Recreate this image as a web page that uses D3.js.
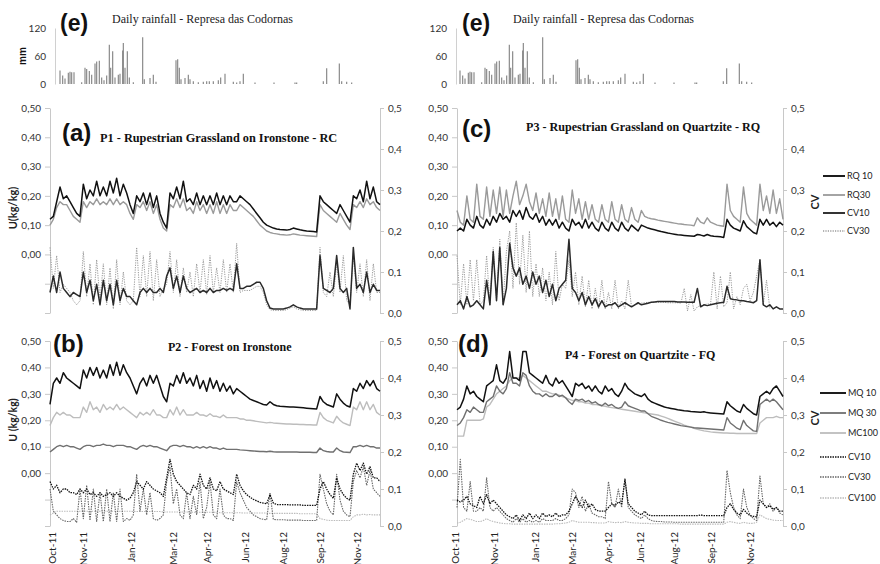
<!DOCTYPE html>
<html><head><meta charset="utf-8">
<script src="https://cdn.jsdelivr.net/npm/d3@7"></script>
<style>body{margin:0;background:#fff}svg{display:block}</style>
</head><body>
<svg id="c" width="880" height="564"></svg>
<script>
// ---------- tick labels ----------
const xTickLabels = ["Oct-11","Nov-11","Jan-12","Mar-12","Apr-12","Jun-12","Aug-12","Sep-12","Nov-12"];
const xTickPosLeft  = [0.6, 9.9, 24.3, 36.9, 47.1, 58.5, 69.9, 81, 92.1];
const xTickPosRight = [-0.6, 11.5, 23.7, 35, 45.9, 55.6, 66.2, 77.4, 89];
const uTickValues = [-0.2,-0.1,0,0.1,0.2,0.3,0.4,0.5];
const uTickLabels = ["","","0,00","0,10","0,20","0,30","0,40","0,50"];
const cvTickValues = [0,0.1,0.2,0.3,0.4,0.5];
const cvTickLabels = ["0,0","0,1","0,2","0,3","0,4","0,5"];
const rainTickValues = [0,60,120];
const rainTickLabels = ["0","60","120"];

// ---------- daily rainfall (mm) ----------
const rainPos = [3,3.8,4.5,5.5,6,6.5,7.2,9.5,10.5,11,11.8,12.5,13.5,14,14.8,15.5,16.2,17,17.8,18.2,18.8,19.5,20.5,21,21.8,22,22.5,23.2,23.8,25,27.8,28.3,30,31,31.8,37.8,38.3,38.8,39.3,40.5,41.5,42,43,44.5,46,47,47.8,49,50.5,51.2,52.5,55,56,57,58,61.5,67.2,73.5,74,82,83,86.8,87.5,89,90.5];
const rainMM  = [29,18,12,24,26,25,25,4,35,32,28,20,44,48,50,14,8,18,84,35,70,14,20,22,72,88,35,70,14,4,100,10,13,20,5,51,53,35,10,13,20,10,6,4,5,6,6,6,8,14,22,5,3,6,22,3,3,3,3,6,34,44,6,5,3];

// ---------- P1 (a) ----------
const p1U10 = [0.12,0.13,0.18,0.23,0.19,0.20,0.18,0.16,0.14,0.13,0.24,0.19,0.22,0.20,0.25,0.20,0.23,0.20,0.25,0.21,0.26,0.20,0.24,0.21,0.17,0.14,0.20,0.18,0.21,0.17,0.21,0.16,0.20,0.14,0.11,0.09,0.21,0.19,0.23,0.19,0.25,0.18,0.19,0.17,0.21,0.17,0.20,0.17,0.20,0.17,0.21,0.17,0.20,0.17,0.20,0.18,0.18,0.20,0.19,0.18,0.17,0.155,0.14,0.125,0.11,0.10,0.095,0.09,0.087,0.085,0.084,0.083,0.085,0.09,0.087,0.084,0.082,0.08,0.079,0.078,0.077,0.20,0.18,0.17,0.16,0.15,0.14,0.17,0.15,0.13,0.11,0.20,0.19,0.22,0.18,0.25,0.19,0.23,0.18,0.17];
const p1U30 = [0.10,0.12,0.16,0.18,0.17,0.17,0.15,0.13,0.12,0.11,0.18,0.16,0.18,0.17,0.19,0.17,0.18,0.17,0.19,0.17,0.19,0.17,0.18,0.17,0.14,0.12,0.17,0.16,0.18,0.15,0.18,0.14,0.17,0.12,0.09,0.08,0.17,0.16,0.19,0.16,0.19,0.15,0.16,0.14,0.18,0.15,0.17,0.14,0.17,0.14,0.18,0.14,0.17,0.14,0.17,0.15,0.15,0.17,0.16,0.15,0.14,0.13,0.115,0.10,0.09,0.08,0.075,0.072,0.07,0.068,0.067,0.066,0.067,0.07,0.068,0.066,0.065,0.064,0.063,0.062,0.061,0.17,0.15,0.14,0.13,0.12,0.11,0.14,0.12,0.10,0.085,0.17,0.16,0.18,0.16,0.19,0.17,0.18,0.16,0.15];
const p1CV10 = [0.05,0.09,0.05,0.10,0.06,0.05,0.04,0.05,0.045,0.04,0.10,0.05,0.08,0.03,0.07,0.02,0.08,0.03,0.07,0.02,0.08,0.03,0.06,0.04,0.04,0.03,0.02,0.05,0.06,0.05,0.06,0.05,0.05,0.06,0.05,0.09,0.11,0.06,0.09,0.05,0.09,0.06,0.05,0.055,0.06,0.05,0.055,0.05,0.06,0.05,0.055,0.055,0.06,0.055,0.06,0.055,0.12,0.06,0.06,0.065,0.065,0.07,0.075,0.075,0.06,0.03,0.012,0.01,0.01,0.01,0.01,0.012,0.015,0.02,0.015,0.012,0.01,0.01,0.01,0.01,0.01,0.14,0.06,0.055,0.05,0.06,0.14,0.06,0.05,0.06,0.01,0.16,0.06,0.07,0.05,0.10,0.05,0.07,0.055,0.055];
const p1CV30 = [0.16,0.06,0.14,0.05,0.07,0.06,0.05,0.03,0.02,0.03,0.15,0.04,0.12,0.02,0.13,0.03,0.12,0.02,0.11,0.01,0.13,0.02,0.10,0.03,0.02,0.03,0.16,0.04,0.14,0.04,0.15,0.03,0.13,0.04,0.06,0.07,0.15,0.05,0.13,0.04,0.11,0.05,0.10,0.04,0.12,0.05,0.13,0.045,0.14,0.05,0.11,0.05,0.13,0.05,0.12,0.05,0.17,0.05,0.055,0.055,0.055,0.06,0.065,0.065,0.05,0.02,0.008,0.006,0.006,0.006,0.006,0.008,0.012,0.015,0.01,0.008,0.006,0.006,0.006,0.006,0.006,0.16,0.05,0.04,0.10,0.04,0.12,0.05,0.14,0.03,0.02,0.14,0.05,0.12,0.04,0.13,0.03,0.12,0.05,0.05];

// ---------- P3 (c) ----------
const p3U10 = [0.08,0.09,0.08,0.12,0.10,0.09,0.13,0.10,0.09,0.12,0.10,0.13,0.11,0.14,0.12,0.13,0.11,0.15,0.13,0.15,0.12,0.16,0.13,0.12,0.14,0.11,0.13,0.10,0.12,0.10,0.12,0.09,0.11,0.09,0.08,0.12,0.10,0.11,0.09,0.12,0.09,0.11,0.09,0.08,0.11,0.09,0.08,0.11,0.09,0.08,0.11,0.09,0.08,0.10,0.09,0.08,0.10,0.095,0.09,0.087,0.084,0.081,0.078,0.076,0.073,0.071,0.069,0.067,0.066,0.065,0.064,0.063,0.062,0.068,0.066,0.063,0.068,0.064,0.062,0.061,0.06,0.058,0.12,0.10,0.09,0.085,0.08,0.115,0.095,0.085,0.075,0.07,0.12,0.10,0.12,0.10,0.11,0.095,0.11,0.10];
const p3U30 = [0.15,0.11,0.10,0.20,0.12,0.11,0.24,0.13,0.12,0.23,0.13,0.22,0.14,0.23,0.13,0.22,0.14,0.20,0.25,0.17,0.20,0.24,0.18,0.15,0.21,0.14,0.19,0.13,0.21,0.13,0.19,0.12,0.20,0.12,0.11,0.22,0.14,0.19,0.12,0.18,0.12,0.17,0.12,0.11,0.17,0.12,0.11,0.18,0.12,0.11,0.17,0.12,0.11,0.16,0.12,0.11,0.15,0.13,0.125,0.122,0.12,0.117,0.115,0.113,0.111,0.109,0.107,0.105,0.104,0.102,0.101,0.10,0.098,0.125,0.11,0.105,0.125,0.11,0.105,0.10,0.098,0.096,0.24,0.15,0.13,0.12,0.11,0.23,0.14,0.12,0.11,0.10,0.24,0.15,0.20,0.14,0.22,0.14,0.19,0.12];
const p3CV10 = [0.02,0.03,0.01,0.04,0.015,0.02,0.03,0.02,0.01,0.08,0.02,0.15,0.03,0.16,0.02,0.06,0.17,0.11,0.09,0.11,0.07,0.09,0.06,0.10,0.07,0.09,0.05,0.08,0.04,0.07,0.03,0.06,0.07,0.08,0.18,0.06,0.05,0.03,0.05,0.02,0.04,0.02,0.035,0.015,0.03,0.015,0.02,0.02,0.025,0.015,0.02,0.025,0.02,0.015,0.02,0.025,0.02,0.022,0.024,0.026,0.027,0.028,0.028,0.028,0.028,0.028,0.028,0.027,0.027,0.027,0.026,0.026,0.026,0.06,0.015,0.02,0.018,0.02,0.022,0.024,0.025,0.026,0.065,0.035,0.033,0.032,0.03,0.03,0.028,0.027,0.025,0.03,0.13,0.02,0.015,0.02,0.01,0.015,0.01,0.01];
const p3CV30 = [0.14,0.02,0.12,0.02,0.13,0.03,0.13,0.02,0.03,0.14,0.02,0.16,0.03,0.18,0.02,0.15,0.20,0.06,0.22,0.07,0.19,0.05,0.20,0.04,0.12,0.04,0.11,0.03,0.10,0.02,0.15,0.03,0.07,0.06,0.13,0.04,0.10,0.02,0.09,0.015,0.08,0.01,0.06,0.01,0.08,0.01,0.05,0.01,0.08,0.01,0.03,0.01,0.08,0.015,0.02,0.022,0.024,0.025,0.026,0.026,0.026,0.026,0.026,0.026,0.025,0.025,0.025,0.025,0.024,0.06,0.005,0.045,0.005,0.015,0.018,0.02,0.022,0.022,0.10,0.01,0.09,0.015,0.025,0.10,0.01,0.04,0.02,0.06,0.07,0.03,0.05,0.09,0.13,0.02,0.08,0.01];

// ---------- P2 (b) ----------
const p2U10 = [0.26,0.34,0.36,0.34,0.38,0.36,0.35,0.34,0.33,0.32,0.39,0.36,0.40,0.37,0.40,0.36,0.39,0.36,0.41,0.37,0.42,0.37,0.41,0.38,0.36,0.33,0.30,0.34,0.36,0.33,0.37,0.34,0.37,0.33,0.29,0.27,0.34,0.33,0.37,0.34,0.38,0.34,0.36,0.33,0.37,0.32,0.35,0.31,0.36,0.32,0.35,0.31,0.34,0.31,0.33,0.30,0.32,0.31,0.30,0.29,0.28,0.275,0.27,0.265,0.26,0.258,0.27,0.26,0.255,0.253,0.252,0.251,0.25,0.25,0.249,0.248,0.247,0.246,0.245,0.244,0.243,0.29,0.27,0.26,0.255,0.25,0.30,0.28,0.265,0.255,0.25,0.32,0.31,0.34,0.32,0.35,0.33,0.35,0.32,0.31];
const p2U30 = [0.08,0.09,0.10,0.105,0.10,0.105,0.10,0.10,0.095,0.09,0.10,0.105,0.105,0.10,0.105,0.105,0.11,0.105,0.105,0.10,0.105,0.105,0.105,0.10,0.10,0.095,0.09,0.10,0.105,0.10,0.105,0.10,0.10,0.095,0.09,0.085,0.10,0.105,0.105,0.10,0.105,0.10,0.10,0.095,0.10,0.095,0.10,0.095,0.10,0.095,0.095,0.09,0.095,0.09,0.09,0.09,0.09,0.088,0.087,0.086,0.085,0.084,0.083,0.082,0.082,0.081,0.083,0.081,0.08,0.08,0.08,0.08,0.08,0.08,0.08,0.079,0.079,0.079,0.079,0.078,0.078,0.095,0.085,0.082,0.08,0.08,0.095,0.085,0.08,0.079,0.078,0.10,0.10,0.105,0.10,0.105,0.10,0.10,0.095,0.095];
const p2U100 = [0.18,0.21,0.23,0.22,0.23,0.22,0.22,0.21,0.21,0.21,0.25,0.23,0.27,0.24,0.25,0.23,0.26,0.24,0.25,0.24,0.26,0.24,0.25,0.24,0.23,0.22,0.21,0.23,0.22,0.23,0.22,0.24,0.22,0.22,0.21,0.21,0.24,0.22,0.25,0.22,0.24,0.22,0.22,0.22,0.23,0.22,0.22,0.215,0.225,0.215,0.215,0.21,0.22,0.21,0.21,0.21,0.21,0.205,0.205,0.20,0.20,0.198,0.196,0.194,0.192,0.19,0.192,0.19,0.189,0.188,0.187,0.186,0.186,0.185,0.185,0.184,0.184,0.183,0.183,0.182,0.182,0.23,0.21,0.20,0.195,0.19,0.215,0.20,0.19,0.185,0.18,0.25,0.24,0.27,0.24,0.27,0.24,0.26,0.23,0.22];
const p2CV10 = [0.12,0.10,0.11,0.09,0.10,0.10,0.09,0.09,0.085,0.10,0.09,0.10,0.085,0.09,0.08,0.09,0.08,0.085,0.09,0.08,0.09,0.08,0.075,0.07,0.075,0.09,0.12,0.11,0.10,0.12,0.11,0.10,0.095,0.09,0.08,0.13,0.18,0.14,0.12,0.11,0.10,0.09,0.085,0.11,0.10,0.14,0.11,0.10,0.13,0.10,0.095,0.12,0.10,0.095,0.09,0.085,0.14,0.11,0.095,0.085,0.078,0.072,0.068,0.064,0.062,0.06,0.085,0.062,0.058,0.058,0.058,0.058,0.057,0.057,0.057,0.057,0.056,0.056,0.056,0.056,0.056,0.10,0.12,0.10,0.085,0.075,0.13,0.10,0.085,0.075,0.07,0.14,0.17,0.15,0.17,0.14,0.16,0.13,0.13,0.12];
const p2CV30 = [0.10,0.04,0.03,0.02,0.015,0.012,0.012,0.02,0.01,0.10,0.02,0.11,0.015,0.10,0.012,0.09,0.012,0.10,0.012,0.09,0.012,0.10,0.012,0.02,0.015,0.03,0.14,0.04,0.10,0.03,0.09,0.02,0.015,0.02,0.03,0.12,0.16,0.06,0.10,0.03,0.02,0.09,0.02,0.08,0.03,0.12,0.02,0.05,0.12,0.03,0.02,0.10,0.03,0.02,0.02,0.015,0.12,0.09,0.07,0.05,0.04,0.03,0.025,0.02,0.018,0.017,0.09,0.018,0.017,0.017,0.017,0.016,0.016,0.016,0.016,0.016,0.015,0.015,0.015,0.015,0.015,0.14,0.10,0.06,0.04,0.03,0.14,0.07,0.04,0.03,0.025,0.12,0.15,0.13,0.16,0.11,0.15,0.10,0.09,0.08];
const p2CV100 = [0.03,0.035,0.04,0.04,0.04,0.04,0.04,0.04,0.04,0.04,0.04,0.04,0.04,0.04,0.04,0.04,0.04,0.04,0.04,0.04,0.04,0.04,0.04,0.04,0.04,0.039,0.039,0.039,0.039,0.039,0.039,0.039,0.039,0.039,0.038,0.038,0.038,0.038,0.038,0.038,0.038,0.038,0.038,0.037,0.037,0.037,0.037,0.037,0.037,0.037,0.037,0.036,0.036,0.036,0.036,0.036,0.036,0.036,0.035,0.035,0.035,0.035,0.035,0.035,0.035,0.035,0.034,0.034,0.034,0.034,0.034,0.034,0.034,0.034,0.034,0.033,0.033,0.033,0.033,0.033,0.033,0.02,0.018,0.016,0.015,0.015,0.015,0.015,0.015,0.015,0.015,0.025,0.03,0.03,0.032,0.03,0.031,0.03,0.03,0.03];

// ---------- P4 (d) ----------
const p4U10 = [0.24,0.25,0.28,0.33,0.30,0.31,0.29,0.28,0.27,0.33,0.34,0.35,0.41,0.35,0.34,0.36,0.46,0.36,0.36,0.35,0.46,0.46,0.38,0.37,0.36,0.35,0.34,0.37,0.34,0.33,0.36,0.34,0.35,0.33,0.31,0.29,0.34,0.33,0.34,0.32,0.33,0.31,0.33,0.31,0.30,0.33,0.31,0.32,0.30,0.29,0.31,0.34,0.32,0.31,0.30,0.295,0.29,0.30,0.28,0.27,0.265,0.26,0.255,0.25,0.247,0.245,0.243,0.24,0.238,0.236,0.235,0.233,0.232,0.231,0.23,0.232,0.229,0.228,0.227,0.226,0.225,0.224,0.27,0.255,0.245,0.235,0.23,0.26,0.245,0.235,0.225,0.22,0.29,0.30,0.31,0.30,0.32,0.33,0.31,0.29];
const p4U30 = [0.18,0.19,0.21,0.24,0.23,0.25,0.24,0.23,0.23,0.27,0.28,0.29,0.33,0.31,0.30,0.32,0.38,0.34,0.34,0.33,0.38,0.37,0.33,0.31,0.30,0.30,0.29,0.30,0.29,0.29,0.30,0.29,0.295,0.285,0.27,0.26,0.28,0.275,0.28,0.27,0.275,0.265,0.27,0.26,0.255,0.265,0.255,0.26,0.25,0.245,0.25,0.27,0.255,0.25,0.245,0.24,0.235,0.235,0.225,0.215,0.21,0.205,0.20,0.196,0.192,0.189,0.186,0.183,0.18,0.178,0.176,0.174,0.172,0.171,0.17,0.169,0.168,0.167,0.166,0.165,0.164,0.163,0.21,0.19,0.18,0.17,0.165,0.20,0.18,0.17,0.16,0.158,0.26,0.27,0.28,0.27,0.28,0.27,0.255,0.24];
const p4U100 = [0.14,0.14,0.14,0.20,0.20,0.20,0.20,0.20,0.205,0.25,0.26,0.28,0.30,0.31,0.32,0.33,0.35,0.36,0.36,0.36,0.37,0.36,0.35,0.34,0.33,0.32,0.31,0.31,0.305,0.30,0.30,0.295,0.29,0.285,0.28,0.275,0.275,0.27,0.27,0.265,0.265,0.26,0.26,0.258,0.255,0.253,0.25,0.248,0.246,0.244,0.242,0.24,0.238,0.236,0.234,0.232,0.23,0.228,0.226,0.224,0.222,0.22,0.216,0.212,0.207,0.202,0.197,0.192,0.187,0.182,0.178,0.174,0.17,0.166,0.163,0.16,0.158,0.156,0.155,0.154,0.153,0.152,0.152,0.151,0.151,0.15,0.15,0.15,0.15,0.15,0.15,0.15,0.19,0.20,0.21,0.21,0.21,0.215,0.21,0.21];
const p4CV10 = [0.07,0.065,0.07,0.08,0.06,0.055,0.05,0.08,0.06,0.085,0.06,0.07,0.06,0.05,0.04,0.03,0.025,0.02,0.03,0.015,0.03,0.02,0.035,0.02,0.03,0.02,0.035,0.025,0.03,0.025,0.035,0.025,0.03,0.03,0.04,0.06,0.08,0.065,0.05,0.07,0.05,0.06,0.045,0.04,0.04,0.04,0.05,0.06,0.055,0.065,0.06,0.125,0.06,0.05,0.04,0.035,0.03,0.04,0.03,0.028,0.028,0.028,0.028,0.028,0.028,0.028,0.028,0.028,0.028,0.028,0.028,0.028,0.028,0.028,0.03,0.028,0.028,0.028,0.028,0.028,0.028,0.028,0.05,0.06,0.045,0.035,0.03,0.045,0.035,0.028,0.026,0.025,0.07,0.06,0.05,0.055,0.045,0.05,0.04,0.04];
const p4CV30 = [0.05,0.18,0.05,0.04,0.12,0.04,0.04,0.05,0.04,0.13,0.05,0.04,0.05,0.04,0.03,0.02,0.015,0.01,0.02,0.01,0.02,0.01,0.015,0.01,0.015,0.01,0.02,0.015,0.015,0.015,0.02,0.015,0.015,0.02,0.03,0.10,0.09,0.05,0.08,0.04,0.06,0.035,0.03,0.025,0.025,0.02,0.12,0.06,0.05,0.10,0.05,0.13,0.05,0.04,0.03,0.025,0.02,0.03,0.02,0.015,0.013,0.012,0.012,0.011,0.011,0.011,0.01,0.01,0.01,0.01,0.01,0.01,0.01,0.01,0.01,0.01,0.01,0.01,0.01,0.01,0.01,0.01,0.15,0.09,0.05,0.03,0.02,0.10,0.05,0.03,0.02,0.015,0.135,0.06,0.05,0.06,0.04,0.05,0.035,0.03];
const p4CV100 = [0.008,0.01,0.015,0.02,0.018,0.015,0.012,0.012,0.015,0.02,0.015,0.012,0.01,0.008,0.007,0.006,0.006,0.005,0.005,0.005,0.005,0.005,0.005,0.005,0.005,0.005,0.005,0.005,0.005,0.005,0.006,0.006,0.007,0.008,0.01,0.015,0.012,0.01,0.01,0.01,0.01,0.009,0.009,0.008,0.008,0.008,0.012,0.01,0.009,0.01,0.009,0.012,0.01,0.009,0.008,0.008,0.007,0.007,0.007,0.006,0.006,0.006,0.006,0.006,0.006,0.006,0.006,0.006,0.005,0.005,0.005,0.005,0.005,0.005,0.005,0.005,0.005,0.005,0.005,0.005,0.005,0.005,0.01,0.012,0.01,0.008,0.007,0.01,0.008,0.007,0.007,0.01,0.03,0.025,0.02,0.018,0.016,0.015,0.015,0.015];

// ---------- drawing ----------
const svg = d3.select('#c');
const TICKFONT = 'Lato, "Open Sans", sans-serif';
const cols = [{x0:50,x1:380,ticks:xTickPosLeft,rx:[50,380]},{x0:457,x1:783,ticks:xTickPosRight,rx:[450,780]}];
const rows = [{y0:108,y1:313},{y0:341,y1:526}];

const ST = {
  k10:{stroke:'#111',w:1.5,dash:null},
  g30:{stroke:'#9a9a9a',w:1.4,dash:null},
  cv10s:{stroke:'#2a2a2a',w:1.5,dash:null},
  cv30d:{stroke:'#9a9a9a',w:1,dash:'1.2,1.2'},
  m30:{stroke:'#707070',w:1.4,dash:null},
  l100:{stroke:'#bdbdbd',w:1.4,dash:null},
  cvk:{stroke:'#111',w:1.3,dash:'1.5,1'},
  cvm:{stroke:'#666',w:1.1,dash:'1.5,1'},
  cvl:{stroke:'#bbb',w:1.1,dash:'1.5,1'}
};

function styleAxis(g){
  g.select('.domain').attr('stroke','#c8c8c8');
  g.selectAll('.tick line').attr('stroke','#c8c8c8');
  g.selectAll('.tick text').attr('fill','#333').style('font-family',TICKFONT).style('font-size','10px');
}

function drawPanel(col,row,series,showX){
  const x = d3.scaleLinear().domain([0,99]).range([col.x0,col.x1]);
  const yU = d3.scaleLinear().domain([-0.2,0.5]).range([row.y1,row.y0]);
  const yC = d3.scaleLinear().domain([0,0.5]).range([row.y1,row.y0]);
  const gl = svg.append('g').attr('transform',`translate(${col.x0},0)`)
    .call(d3.axisLeft(yU).tickValues(uTickValues).tickFormat((d,i)=>uTickLabels[i]).tickSize(5).tickPadding(4).tickSizeOuter(0));
  styleAxis(gl);
  const gr = svg.append('g').attr('transform',`translate(${col.x1},0)`)
    .call(d3.axisRight(yC).tickValues(cvTickValues).tickFormat((d,i)=>cvTickLabels[i]).tickSize(4).tickPadding(4).tickSizeOuter(0));
  styleAxis(gr);
  series.forEach(s=>{
    const y = s.axis==='U'?yU:yC;
    const st = ST[s.style];
    svg.append('path').datum(s.values)
      .attr('d', d3.line().x((d,i)=>x(i)).y(d=>y(d)))
      .attr('fill','none').attr('stroke',st.stroke).attr('stroke-width',st.w)
      .attr('stroke-linejoin','round')
      .attr('stroke-dasharray',st.dash);
  });
  if(showX){
    col.ticks.forEach((t,i)=>{
      svg.append('text').attr('transform',`translate(${x(t)},532) rotate(-90)`)
        .attr('text-anchor','end').attr('dy','0.35em')
        .style('font-family',TICKFONT).style('font-size','10px').attr('fill','#222')
        .text(xTickLabels[i]);
    });
  }
}

function drawRain(col, axisX){
  const x = d3.scaleLinear().domain([0,99]).range(col.rx);
  const y = d3.scaleLinear().domain([0,120]).range([84,28]);
  const g = svg.append('g').attr('transform',`translate(${axisX},0)`)
    .call(d3.axisLeft(y).tickValues(rainTickValues).tickFormat((d,i)=>rainTickLabels[i]).tickSize(0).tickPadding(9));
  styleAxis(g);
  g.select('.domain').attr('stroke','#d0d0d0');
  svg.append('g').selectAll('line').data(rainPos).join('line')
    .attr('x1',(d)=>x(d)).attr('x2',(d)=>x(d))
    .attr('y1',y(0)).attr('y2',(d,i)=>y(rainMM[i]))
    .attr('stroke','#8a8a8a').attr('stroke-width',1.2);
}

drawRain(cols[0],55);
drawRain(cols[1],456);

drawPanel(cols[0],rows[0],[
  {values:p1CV30,axis:'C',style:'cv30d'},
  {values:p1CV10,axis:'C',style:'cv10s'},
  {values:p1U30,axis:'U',style:'g30'},
  {values:p1U10,axis:'U',style:'k10'}
],false);
drawPanel(cols[1],rows[0],[
  {values:p3CV30,axis:'C',style:'cv30d'},
  {values:p3CV10,axis:'C',style:'cv10s'},
  {values:p3U30,axis:'U',style:'g30'},
  {values:p3U10,axis:'U',style:'k10'}
],false);
drawPanel(cols[0],rows[1],[
  {values:p2CV100,axis:'C',style:'cvl'},
  {values:p2CV30,axis:'C',style:'cvm'},
  {values:p2CV10,axis:'C',style:'cvk'},
  {values:p2U100,axis:'U',style:'l100'},
  {values:p2U30,axis:'U',style:'m30'},
  {values:p2U10,axis:'U',style:'k10'}
],true);
drawPanel(cols[1],rows[1],[
  {values:p4CV100,axis:'C',style:'cvl'},
  {values:p4CV30,axis:'C',style:'cvm'},
  {values:p4CV10,axis:'C',style:'cvk'},
  {values:p4U100,axis:'U',style:'l100'},
  {values:p4U30,axis:'U',style:'m30'},
  {values:p4U10,axis:'U',style:'k10'}
],true);

// ---------- text ----------
function txt(x,y,s,o){
  const t = svg.append('text').attr('x',x).attr('y',y).text(s)
    .style('font-family',o.font).style('font-size',o.size+'px')
    .style('font-weight',o.weight||'normal').attr('fill',o.fill||'#111');
  if(o.rot) t.attr('transform',`rotate(-90,${x},${y})`).attr('text-anchor','middle');
  return t;
}
const SANS='"Liberation Sans", Arial, sans-serif', SERIF='"Liberation Serif", "Times New Roman", serif';
txt(60,31,'(e)',{font:SANS,size:23,weight:'bold'});
txt(462,31,'(e)',{font:SANS,size:23,weight:'bold'});
txt(112,23,'Daily rainfall  - Represa das Codornas',{font:SERIF,size:12,fill:'#222'});
txt(513,23,'Daily rainfall  - Represa das Codornas',{font:SERIF,size:12,fill:'#222'});
txt(62,141,'(a)',{font:SANS,size:24,weight:'bold'});
txt(100,142,'P1 - Rupestrian Grassland on Ironstone - RC',{font:SERIF,size:12.3,weight:'bold'});
txt(462,137,'(c)',{font:SANS,size:24,weight:'bold'});
txt(526,131,'P3 - Rupestrian Grassland on Quartzite - RQ',{font:SERIF,size:12.1,weight:'bold'});
txt(53,352,'(b)',{font:SANS,size:24,weight:'bold'});
txt(168,351,'P2 - Forest on Ironstone',{font:SERIF,size:12,weight:'bold'});
txt(458,352,'(d)',{font:SANS,size:24,weight:'bold'});
txt(565,359,'P4 - Forest on Quartzite - FQ',{font:SERIF,size:12,weight:'bold'});
txt(22,56,'mm',{font:SANS,size:10,weight:'bold',rot:true}).attr('dy','0.35em');
txt(13,208,'U(kg/kg)',{font:TICKFONT,size:11,weight:'bold',rot:true,fill:'#222'}).attr('dy','0.35em');
txt(13,420,'U (kg/kg)',{font:TICKFONT,size:10.5,weight:'bold',rot:true,fill:'#222'}).attr('dy','0.35em');
txt(815,202,'CV',{font:TICKFONT,size:11,weight:'bold',rot:true,fill:'#222'}).attr('dy','0.35em');
txt(815,418,'CV',{font:TICKFONT,size:11,weight:'bold',rot:true,fill:'#222'}).attr('dy','0.35em');

// ---------- legends ----------
const legC = [{label:'RQ 10',style:'k10'},{label:'RQ30',style:'g30'},{label:'CV10',style:'cv10s'},{label:'CV30',style:'cv30d'}];
const legCy = [176,195,213,231];
const legD = [{label:'MQ 10',style:'k10'},{label:'MQ 30',style:'m30'},{label:'MC100',style:'l100'},{label:'CV10',style:'cvk'},{label:'CV30',style:'cvm'},{label:'CV100',style:'cvl'}];
const legDy = [393,413,433,457,477,498];
function legend(items,ys,x0,x1){
  items.forEach((it,i)=>{
    const st = ST[it.style];
    svg.append('line').attr('x1',x0).attr('x2',x1).attr('y1',ys[i]).attr('y2',ys[i])
      .attr('stroke',st.stroke).attr('stroke-width',st.w+0.4).attr('stroke-dasharray',st.dash);
    svg.append('text').attr('x',x1+2).attr('y',ys[i]).attr('dy','0.35em').text(it.label)
      .style('font-family',TICKFONT).style('font-size','9px').attr('fill','#222');
  });
}
legend(legC,legCy,823,845);
legend(legD,legDy,820,846);
</script>
</body></html>
